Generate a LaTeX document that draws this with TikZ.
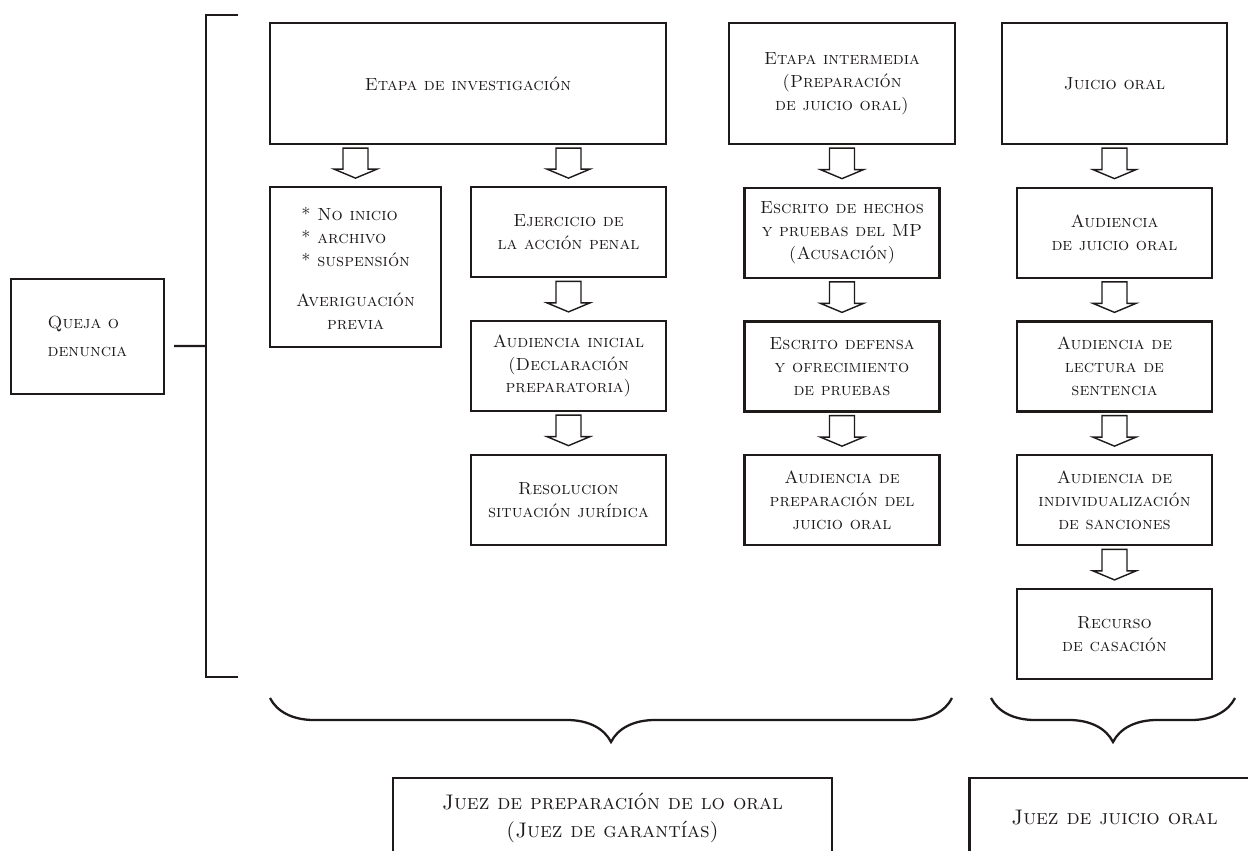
\documentclass[tikz,border=0pt]{standalone}
\usepackage{tikz}
\usetikzlibrary{positioning,calc,decorations.pathreplacing}
\definecolor{jpInk}{RGB}{30,26,26}
\tikzset{
    base/.style={font=\fontsize{10}{13}\selectfont\scshape, align=center, text=jpInk},
    caja/.style={base, rectangle, draw=jpInk, line width=1.3pt, fill=white, inner sep=1mm},
    paso/.style={caja, minimum width=3.9cm, minimum height=1.8cm},
    etapa/.style={caja, minimum width=4.5cm, minimum height=2.42cm},
    juez/.style={caja, font=\fontsize{12}{16}\selectfont\scshape, minimum height=1.6cm},
    flecha/.style={draw=jpInk, line width=0.8pt, fill=white, to path={
        let \p1=(\tikztostart), \p2=(\tikztotarget) in
        (\x2-0.25cm,\y1-0.06cm) -- (\x2+0.25cm,\y1-0.06cm) -- (\x2+0.25cm,\y2+0.34cm)
        -- (\x2+0.43cm,\y2+0.34cm) -- (\x2,\y2+0.16cm) -- (\x2-0.43cm,\y2+0.34cm)
        -- (\x2-0.25cm,\y2+0.34cm) -- cycle}},
    llave/.style={draw=jpInk, line width=1.3pt, decorate,
        decoration={brace, mirror, amplitude=0.88cm}},
    linea/.style={draw=jpInk, line width=1.3pt}
}

\begin{document}
\begin{tikzpicture}[x=0.02cm, y=-0.02cm, node distance=0.83cm]
  \clip (0,0) rectangle (1248,850);
  \fill[white] (0,0) rectangle (1248,850);

  % Queja and bracket
  \node[caja, align=left, minimum width=3.06cm, minimum height=2.3cm] (queja) at (87.5,336.5) {Queja o\\[3pt]denuncia};
  \coordinate (corchete) at (206,346);
  \draw[linea] (238,15) -- (206,15) -- (206,677) -- (238,677);
  \draw[linea, shorten <=0.18cm] ([yshift=-0.19cm]queja.east) -- (corchete);

  % Stages
  \node[etapa, minimum width=7.92cm] (inv) at (468,83.5) {Etapa de investigación};
  \node[etapa, minimum width=4.52cm] (inter) at (842,83.5) {Etapa intermedia\\(Preparación\\de juicio oral)};
  \node[etapa] (juicio) at (1114.5,83.5) {Juicio oral};

  % Investigation branch
  \node[paso, below right=0.82cm and 0cm of inv.south west, minimum width=3.42cm, minimum height=3.2cm] (avg)
    {\begin{tabular}{@{}l@{}}{*} No inicio\\{*} archivo\\{*} suspensión\end{tabular}\\[10pt]Averiguación\\previa};
  \node[paso, below left=0.82cm and 0cm of inv.south east] (ejer) {Ejercicio de\\la acción penal};
  \node[paso, below=of ejer] (ainicial) {Audiencia inicial\\(Declaración\\preparatoria)};
  \node[paso, below=of ainicial] (resol) {Resolucion\\situación jurídica};

  % Intermediate branch
  \node[paso, below=of inter] (escrito) {Escrito de hechos\\y pruebas del MP\\(Acusación)};
  \node[paso, below=of escrito] (defensa) {Escrito defensa\\y ofrecimiento\\de pruebas};
  \node[paso, below=of defensa] (aprep) {Audiencia de\\preparación del\\juicio oral};

  % Oral trial branch
  \node[paso, below=of juicio] (ajuicio) {Audiencia\\de juicio oral};
  \node[paso, below=of ajuicio] (lectura) {Audiencia de\\lectura de\\sentencia};
  \node[paso, below=of lectura] (sanciones) {Audiencia de\\individualización\\de sanciones};
  \node[paso, below=of sanciones] (casacion) {Recurso\\de casación};

  % Hollow arrows
  \foreach \a/\b in {inv/avg, inv/ejer, ejer/ainicial, ainicial/resol,
                     inter/escrito, escrito/defensa, defensa/aprep,
                     juicio/ajuicio, ajuicio/lectura, lectura/sanciones, sanciones/casacion}
    \draw[flecha] (\a.south) to (\b.north);

  % Braces
  \draw[llave] (270,698) -- (952,698);
  \draw[llave] (991,698) -- (1235,698);

  % Judges
  \node[juez, minimum width=8.78cm] (jprep) at (612.5,818) {Juez de preparación de lo oral\\(Juez de garantías)};
  \node[juez, minimum width=5.8cm] (jjuicio) at (1114.5,818) {Juez de juicio oral};
\end{tikzpicture}
\end{document}
